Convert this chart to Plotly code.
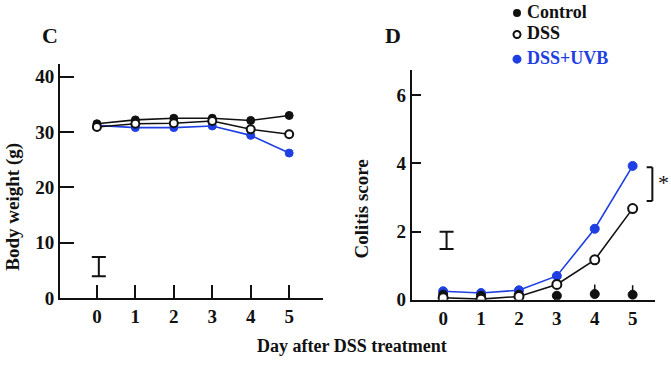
import plotly.graph_objects as go

# ---- data ----
days = [0, 1, 2, 3, 4, 5]
day_labels = ["0", "1", "2", "3", "4", "5"]

bw_control = [31.5, 32.2, 32.5, 32.5, 32.1, 33.0]
bw_dss = [30.9, 31.5, 31.6, 32.0, 30.5, 29.6]
bw_uvb = [31.2, 30.8, 30.8, 31.1, 29.4, 26.2]

cs_control = [0.15, 0.12, 0.15, 0.12, 0.17, 0.15]
cs_control_err = [0, 0, 0, 0, 0.28, 0.28]
cs_dss = [0.06, 0.02, 0.1, 0.45, 1.17, 2.67]
cs_uvb = [0.25, 0.2, 0.28, 0.7, 2.08, 3.92]
cs_uvb_err = [0.12, 0.12, 0.1, 0, 0, 0]

# representative SE bars (scale bars)
bw_sebar = {"x": 0.05, "center": 5.65, "half": 1.75}
cs_sebar = {"x": 0.09, "center": 1.74, "half": 0.25}

# significance bracket (right panel)
sig_low, sig_high = 2.89, 3.88
sig_label = "*"

legend_names = ["Control", "DSS", "DSS+UVB"]

BLUE = "#1f3fe3"
BLACK = "#111111"
FONT = "Liberation Serif, Times New Roman, serif"

W, H = 671, 371

def bfont(size, color=BLACK):
    return dict(family=FONT, size=size, color=color, weight="bold")

fig = go.Figure()

def add_panel(xa, ya, ctrl, dss, uvb, msize, ctrl_err=None, uvb_err=None, ctrl_mode="lines+markers"):
    fig.add_trace(go.Scatter(
        x=days, y=uvb, mode="lines+markers", xaxis=xa, yaxis=ya,
        line=dict(color=BLUE, width=1.6),
        marker=dict(color=BLUE, size=msize, line=dict(color=BLUE, width=1)),
        error_y=(dict(type="data", array=uvb_err, arrayminus=[0]*6, color=BLUE,
                      thickness=2, width=0) if uvb_err else None),
        showlegend=False))
    fig.add_trace(go.Scatter(
        x=days, y=ctrl, mode=ctrl_mode, xaxis=xa, yaxis=ya,
        line=dict(color=BLACK, width=1.6),
        marker=dict(color=BLACK, size=msize, line=dict(color=BLACK, width=1)),
        error_y=(dict(type="data", array=ctrl_err, arrayminus=[0]*6, color=BLACK,
                      thickness=1.5, width=0) if ctrl_err else None),
        showlegend=False))
    fig.add_trace(go.Scatter(
        x=days, y=dss, mode="lines+markers", xaxis=xa, yaxis=ya,
        line=dict(color=BLACK, width=1.6),
        marker=dict(color="white", size=msize, line=dict(color=BLACK, width=2)),
        showlegend=False))

add_panel("x", "y", bw_control, bw_dss, bw_uvb, 8)
add_panel("x2", "y2", cs_control, cs_dss, cs_uvb, 9, cs_control_err, cs_uvb_err,
          ctrl_mode="markers")

# SE scale bars as error bars on invisible points
for xa, ya, sb, cw in [("x", "y", bw_sebar, 7), ("x2", "y2", cs_sebar, 7)]:
    fig.add_trace(go.Scatter(
        x=[sb["x"]], y=[sb["center"]], mode="markers", xaxis=xa, yaxis=ya,
        marker=dict(size=1, color="rgba(0,0,0,0)"),
        error_y=dict(type="constant", value=sb["half"], color=BLACK,
                     thickness=2, width=cw),
        showlegend=False, hoverinfo="skip"))

axis_common = dict(showline=True, linecolor=BLACK, linewidth=2, showgrid=False,
                   zeroline=False, ticks="inside", tickcolor=BLACK, tickwidth=2,
                   tickfont=bfont(19))

fig.update_layout(
    width=W, height=H,
    margin=dict(l=0, r=0, t=0, b=0),
    paper_bgcolor="white", plot_bgcolor="white",
    font=dict(family=FONT, color=BLACK),
    xaxis=dict(**axis_common, domain=[60/W, 323/W], range=[-0.96, 5.88],
               tickvals=days, ticktext=day_labels, ticklen=13, anchor="y"),
    yaxis=dict(**axis_common, domain=[1-307/H, 1-66/H], range=[0, 42.3],
               tickvals=[0, 10, 20, 30, 40], ticklen=14, anchor="x"),
    xaxis2=dict(**{**axis_common, "ticks": ""}, domain=[411.7/W, 655/W],
                range=[-0.83, 5.59], tickvals=days, ticktext=day_labels, anchor="y2"),
    yaxis2=dict(**axis_common, domain=[1-309/H, 1-71.7/H], range=[0, 6.74],
                tickvals=[0, 2, 4, 6], ticklen=9, anchor="x2"),
)

annotations = [
    dict(text="C", x=40/W, y=1-37/H, xref="paper", yref="paper", yanchor="middle",
         showarrow=False, font=bfont(22)),
    dict(text="D", x=393/W, y=1-37/H, xref="paper", yref="paper", yanchor="middle",
         showarrow=False, font=bfont(22)),
    dict(text="Day after DSS treatment", x=352/W, y=1-357/H,
         xref="paper", yref="paper", yanchor="middle", showarrow=False,
         font=bfont(18)),
    dict(text="Body weight (g)", x=13/W, y=1-213/H, xref="paper", yref="paper",
         textangle=-90, xanchor="center", yanchor="middle", showarrow=False,
         font=bfont(19)),
    dict(text="Colitis score", x=362/W, y=1-216/H, xref="paper", yref="paper",
         textangle=-90, xanchor="center", yanchor="middle", showarrow=False,
         font=bfont(19)),
    dict(text=sig_label, x=663/W, y=1-188/H, xref="paper", yref="paper",
         xanchor="center", yanchor="middle", showarrow=False, borderpad=0,
         font=dict(family=FONT, size=22, color=BLACK)),
]

legend_y = [12.5, 34.5, 60]
legend_colors = [BLACK, BLACK, BLUE]
shapes = []
for name, yy, col, i in zip(legend_names, legend_y, legend_colors, range(3)):
    annotations.append(dict(text=name, x=525/W, y=1-yy/H,
                            xref="paper", yref="paper", xanchor="left",
                            yanchor="middle", showarrow=False,
                            font=bfont(18, col)))
    r = 3 if i == 0 else 3.5
    fill = "white" if i == 1 else col
    shapes.append(dict(type="circle", xref="paper", yref="paper",
                       xsizemode="pixel", ysizemode="pixel",
                       xanchor=517/W, yanchor=1-(yy+1)/H,
                       x0=-r, x1=r, y0=-r, y1=r,
                       fillcolor=fill, line=dict(color=col, width=2)))

# significance bracket
bx = 5.52
for seg in [(bx, sig_low, bx, sig_high), (bx - 0.15, sig_high, bx, sig_high),
            (bx - 0.15, sig_low, bx, sig_low)]:
    shapes.append(dict(type="line", xref="x2", yref="y2",
                       x0=seg[0], y0=seg[1], x1=seg[2], y1=seg[3],
                       line=dict(color=BLACK, width=2)))

fig.update_layout(annotations=annotations, shapes=shapes)

fig.write_html(
    "out.html",
    config={"displayModeBar": False},
    post_script="document.body.style.margin='0';document.body.style.overflow='hidden';",
)
